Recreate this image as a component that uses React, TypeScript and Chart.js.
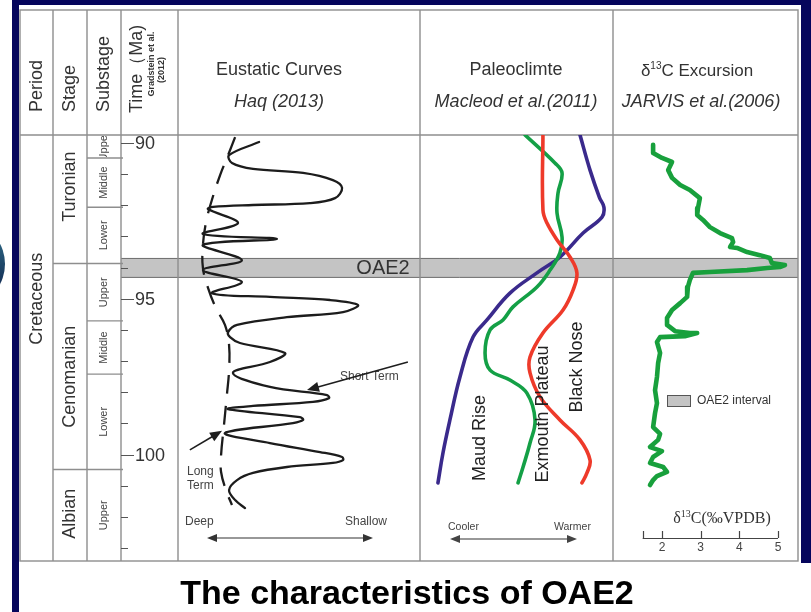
import React, { useEffect, useRef } from "react";
import { Chart, registerables } from "chart.js";

Chart.register(...registerables);

const SANS = "'Liberation Sans', Arial, Helvetica, sans-serif";
const SERIF = "'Liberation Serif', 'Times New Roman', serif";

// ---------- stratigraphy (ages in Ma) ----------
const TIME_TICKS = [90, 91, 92, 93, 94, 95, 96, 97, 98, 99, 100, 101, 102, 103];
const TIME_LABELS = [90, 95, 100];
const PERIOD_NAME = "Cretaceous";
const STAGE_NAMES = ["Turonian", "Cenomanian", "Albian"];
const STAGE_BOUNDS = [89.74, 93.87, 100.48, 103.42];
const SUBSTAGE_NAMES = ["Upper", "Middle", "Lower", "Upper", "Middle", "Lower", "Upper"];
const SUBSTAGE_BOUNDS = [89.74, 90.48, 92.06, 93.87, 95.71, 97.42, 100.48, 103.42];
const OAE2_INTERVAL = [93.69, 94.33];

// ---------- eustatic curves, Haq (2013) (relative level, 0 = deep, 100 = shallow) ----------
const SEA_SHORT_AGE = [89.97, 90.39, 90.64, 90.83, 90.96, 91.19, 91.44, 91.77, 91.93, 91.99, 92.05, 92.12, 92.57, 92.92, 93.08, 93.27, 93.76, 94.08, 94.46, 94.82, 94.94, 95.04, 95.2, 95.43, 95.59, 95.84, 96.07, 96.23, 96.42, 96.74, 97.03, 97.38, 97.83, 98.09, 98.19, 98.31, 98.44, 98.54, 98.8, 98.89, 98.99, 99.31, 99.63, 99.92, 100.08, 100.18, 100.27, 100.4, 100.59, 100.82, 101.14, 101.46, 101.72];
const SEA_SHORT_LEVEL = [33.5, 21.1, 22.3, 31.0, 51.7, 64.0, 67.8, 64.9, 54.5, 31.0, 14.5, 12.4, 24.8, 10.3, 40.9, 10.3, 26.4, 10.3, 26.4, 14.0, 38.0, 62.8, 74.4, 68.2, 45.0, 24.4, 20.7, 21.5, 25.6, 44.2, 38.0, 22.7, 38.0, 61.6, 62.4, 55.8, 31.0, 20.7, 50.4, 51.7, 47.5, 19.4, 38.0, 58.7, 67.8, 68.2, 64.0, 45.0, 31.0, 24.4, 21.1, 23.6, 27.7];
const SEA_LONG_AGE = [89.81, 90.39, 91.03, 91.83, 92.54, 93.27, 94.01, 94.65, 95.3, 95.84, 96.48, 97.29, 98.09, 99.05, 100.02, 100.56, 101.14, 101.62];
const SEA_LONG_LEVEL = [23.6, 20.7, 17.4, 14.0, 11.6, 10.3, 10.3, 12.4, 15.7, 19.4, 21.1, 21.1, 20.2, 19.0, 17.8, 17.8, 19.8, 22.3];

// ---------- paleoclimate, Macleod et al. (2011) (0 = cooler, 100 = warmer) ----------
const BLACK_NOSE_AGE = [89.7, 92.15, 92.57, 93.11, 93.66, 94.17, 94.72, 95.36, 96.1, 96.87, 97.38, 98.15, 98.89, 99.53, 100.18, 100.59, 100.91];
const BLACK_NOSE_TEMP = [63.7, 63.7, 65.8, 71.0, 77.7, 81.3, 79.3, 74.1, 63.7, 57.0, 57.0, 62.2, 72.5, 82.9, 88.1, 86.5, 83.9];
const EXMOUTH_AGE = [89.74, 90.64, 90.96, 91.61, 92.25, 93.02, 93.53, 94.08, 94.62, 95.26, 95.68, 96.0, 96.74, 97.29, 97.61, 98.03, 98.89, 99.63, 100.4, 100.91];
const EXMOUTH_TEMP = [54.4, 69.9, 73.6, 71.5, 71.0, 73.6, 72.5, 67.4, 60.6, 48.2, 43.0, 36.3, 33.7, 36.3, 46.6, 55.4, 59.6, 57.0, 53.4, 50.8];
const MAUD_RISE_AGE = [89.74, 90.87, 91.75, 92.06, 92.38, 92.89, 93.66, 94.17, 94.82, 95.68, 96.23, 97.51, 98.89, 99.95, 100.91];
const MAUD_RISE_TEMP = [82.9, 88.1, 93.0, 95.3, 94.3, 84.5, 72.5, 60.6, 46.6, 34.7, 27.5, 20.7, 15.5, 11.9, 9.3];

// ---------- carbon isotopes, Jarvis et al. (2006) (‰ VPDB) ----------
const D13C_AGE = [90.06, 90.32, 90.48, 90.61, 90.87, 91.12, 91.35, 91.51, 91.77, 92.09, 92.31, 92.47, 92.7, 92.89, 93.05, 93.18, 93.34, 93.37, 93.5, 93.6, 93.69, 93.85, 93.92, 93.98, 94.01, 94.08, 94.14, 94.17, 94.4, 94.62, 94.94, 95.14, 95.36, 95.62, 95.84, 96.04, 96.1, 96.1, 96.2, 96.23, 96.39, 96.74, 97.06, 97.51, 97.93, 98.35, 98.67, 99.12, 99.34, 99.53, 99.76, 99.89, 100.08, 100.27, 100.4, 100.56, 100.69, 100.82, 100.98];
const D13C_VALUE = [1.77, 1.77, 2.0, 2.26, 2.16, 2.26, 2.47, 2.72, 2.98, 2.93, 2.91, 3.06, 3.24, 3.5, 3.81, 3.84, 3.76, 3.94, 4.2, 4.53, 4.79, 4.84, 5.18, 5.05, 4.72, 4.2, 3.24, 2.8, 2.72, 2.67, 2.65, 2.47, 2.26, 2.13, 2.13, 2.34, 2.72, 2.91, 2.59, 1.95, 1.87, 1.95, 1.9, 1.87, 1.82, 1.87, 1.82, 1.77, 1.95, 1.9, 1.69, 2.0, 1.77, 1.69, 2.03, 2.13, 1.87, 1.77, 1.69];
const D13C_TICKS = [2, 3, 4, 5];
const D13C_AXIS_MIN = 1.5;

// ---------- page layout ----------
const W = 811;
const H = 612;
const FRAME = { left: 20, top: 10, right: 798, head: 135, bottom: 561 };
const COL = { period: 20, stage: 53, sub: 87, time: 121, sea: 178, clim: 420, c13: 613, end: 798 };
const STAGE_LABEL_AT = [91.4, 97.5, 101.9];
const PERIOD_LABEL_AT = 95.0;

// linear map so that pixel pxA shows vA and pxB shows vB inside the frame
function fitX(pxA: number, pxB: number, vA: number, vB: number) {
  const k = (vB - vA) / (pxB - pxA);
  return { min: vA - (pxA - FRAME.left) * k, max: vB + (FRAME.right - pxB) * k };
}
function fitY(pxA: number, pxB: number, vA: number, vB: number) {
  const k = (vB - vA) / (pxB - pxA);
  return { min: vA - (pxA - FRAME.head) * k, max: vB + (FRAME.bottom - pxB) * k };
}

const zip = (xs: number[], ys: number[]) => xs.map((x, i) => ({ x, y: ys[i] }));

function vText(ctx: CanvasRenderingContext2D, text: string, x: number, y: number, font: string, align: CanvasTextAlign, color = "#333") {
  ctx.save();
  ctx.translate(x, y);
  ctx.rotate(-Math.PI / 2);
  ctx.font = font;
  ctx.fillStyle = color;
  ctx.textAlign = align;
  ctx.textBaseline = "middle";
  ctx.fillText(text, 0, 0);
  ctx.restore();
}

function hText(ctx: CanvasRenderingContext2D, text: string, x: number, y: number, font: string, align: CanvasTextAlign = "left", color = "#333") {
  ctx.font = font;
  ctx.fillStyle = color;
  ctx.textAlign = align;
  ctx.textBaseline = "middle";
  ctx.fillText(text, x, y);
}

// "δ¹³C..." with a raised small "13"
function deltaText(ctx: CanvasRenderingContext2D, rest: string, cx: number, y: number, family: string, size: number, color = "#333") {
  const small = Math.round(size * 0.6);
  ctx.textBaseline = "alphabetic";
  ctx.font = `${size}px ${family}`;
  const w1 = ctx.measureText("δ").width;
  const w3 = ctx.measureText(rest).width;
  ctx.font = `${small}px ${family}`;
  const w2 = ctx.measureText("13").width;
  let x = cx - (w1 + w2 + w3) / 2;
  const base = y + size * 0.35;
  ctx.fillStyle = color;
  ctx.textAlign = "left";
  ctx.font = `${size}px ${family}`;
  ctx.fillText("δ", x, base);
  x += w1;
  ctx.font = `${small}px ${family}`;
  ctx.fillText("13", x, base - size * 0.38);
  x += w2;
  ctx.font = `${size}px ${family}`;
  ctx.fillText(rest, x, base);
}

function arrow(ctx: CanvasRenderingContext2D, x1: number, y1: number, x2: number, y2: number, len = 10, half = 4) {
  const a = Math.atan2(y2 - y1, x2 - x1);
  ctx.beginPath();
  ctx.moveTo(x1, y1);
  ctx.lineTo(x2 - Math.cos(a) * len * 0.8, y2 - Math.sin(a) * len * 0.8);
  ctx.stroke();
  ctx.beginPath();
  ctx.moveTo(x2, y2);
  ctx.lineTo(x2 - Math.cos(a) * len - Math.sin(a) * half, y2 - Math.sin(a) * len + Math.cos(a) * half);
  ctx.lineTo(x2 - Math.cos(a) * len + Math.sin(a) * half, y2 - Math.sin(a) * len - Math.cos(a) * half);
  ctx.closePath();
  ctx.fill();
}

const oaeFrame = {
  id: "oaeFrame",
  beforeDraw(chart: any) {
    const ctx: CanvasRenderingContext2D = chart.ctx;
    const y = chart.scales.y;
    ctx.save();
    ctx.fillStyle = "#ffffff";
    ctx.fillRect(0, 0, W, H);

    // slide edges
    ctx.fillStyle = "#05055c";
    ctx.fillRect(12, 0, 7, H);
    ctx.fillRect(12, 0, W - 12, 5);
    ctx.fillRect(801, 0, W - 801, 563);

    // edge of the round logo at the far left
    ctx.save();
    ctx.beginPath();
    ctx.rect(0, 0, 11, H);
    ctx.clip();
    const g = ctx.createLinearGradient(0, 232, 6, 300);
    g.addColorStop(0, "#2f6c86");
    g.addColorStop(1, "#0d1f4a");
    ctx.fillStyle = g;
    ctx.beginPath();
    ctx.ellipse(-24, 264, 29, 36, 0, 0, Math.PI * 2);
    ctx.fill();
    ctx.restore();

    // OAE2 interval band
    const b1 = y.getPixelForValue(OAE2_INTERVAL[0]);
    const b2 = y.getPixelForValue(OAE2_INTERVAL[1]);
    ctx.fillStyle = "#c4c4c4";
    ctx.fillRect(COL.time, b1, FRAME.right - COL.time, b2 - b1);
    ctx.strokeStyle = "#707070";
    ctx.lineWidth = 1;
    ctx.beginPath();
    ctx.moveTo(COL.time, b1 + 0.5);
    ctx.lineTo(FRAME.right, b1 + 0.5);
    ctx.moveTo(COL.time, b2 - 0.5);
    ctx.lineTo(FRAME.right, b2 - 0.5);
    ctx.stroke();

    // table lines
    ctx.strokeStyle = "#8e8e8e";
    ctx.lineWidth = 1.4;
    ctx.strokeRect(FRAME.left, FRAME.top, FRAME.right - FRAME.left, FRAME.bottom - FRAME.top);
    ctx.beginPath();
    ctx.moveTo(FRAME.left, FRAME.head);
    ctx.lineTo(FRAME.right, FRAME.head);
    [COL.stage, COL.sub, COL.time, COL.sea, COL.clim, COL.c13].forEach((x) => {
      ctx.moveTo(x, FRAME.top);
      ctx.lineTo(x, FRAME.bottom);
    });
    STAGE_BOUNDS.slice(1, -1).forEach((t) => {
      const py = y.getPixelForValue(t);
      ctx.moveTo(COL.stage, py);
      ctx.lineTo(COL.sub, py);
    });
    SUBSTAGE_BOUNDS.slice(1, -1).forEach((t) => {
      const py = y.getPixelForValue(t);
      ctx.moveTo(COL.sub, py);
      ctx.lineTo(COL.time + 2, py);
    });
    ctx.stroke();

    // time scale
    ctx.strokeStyle = "#555";
    ctx.lineWidth = 1.2;
    ctx.beginPath();
    TIME_TICKS.forEach((t) => {
      const py = Math.round(y.getPixelForValue(t)) + 0.5;
      const major = TIME_LABELS.includes(t);
      ctx.moveTo(COL.time, py);
      ctx.lineTo(COL.time + (major ? 13 : 7), py);
    });
    ctx.stroke();
    TIME_LABELS.forEach((t) => hText(ctx, String(t), COL.time + 14, y.getPixelForValue(t) + 1, `18px ${SANS}`, "left", "#333"));

    // column headings
    const headFont = `18px ${SANS}`;
    vText(ctx, "Period", 37, 112, headFont, "left");
    vText(ctx, "Stage", 70, 112, headFont, "left");
    vText(ctx, "Substage", 104, 112, headFont, "left");
    vText(ctx, "Time（Ma)", 137, 113, headFont, "left");
    vText(ctx, "Gradstein et al.", 152, 64, `bold 9px ${SANS}`, "center");
    vText(ctx, "(2012)", 162, 70, `bold 9px ${SANS}`, "center");

    hText(ctx, "Eustatic Curves", 279, 70, headFont, "center");
    hText(ctx, "Haq (2013)", 279, 102, `italic ${headFont}`, "center");
    hText(ctx, "Paleoclimte", 516, 70, headFont, "center");
    hText(ctx, "Macleod et al.(2011)", 516, 102, `italic ${headFont}`, "center");
    deltaText(ctx, "C Excursion", 697, 70, SANS, 17);
    hText(ctx, "JARVIS et al.(2006)", 701, 102, `italic ${headFont}`, "center");

    // period / stage / substage names
    vText(ctx, PERIOD_NAME, 37, y.getPixelForValue(PERIOD_LABEL_AT), `18px ${SANS}`, "center");
    STAGE_NAMES.forEach((s, i) => vText(ctx, s, 70, y.getPixelForValue(STAGE_LABEL_AT[i]), `18px ${SANS}`, "center"));
    SUBSTAGE_NAMES.forEach((s, i) => {
      const top = y.getPixelForValue(SUBSTAGE_BOUNDS[i]);
      const bot = y.getPixelForValue(SUBSTAGE_BOUNDS[i + 1]);
      ctx.save();
      ctx.beginPath();
      ctx.rect(COL.sub, top + 1, COL.time - COL.sub, bot - top - 2);
      ctx.clip();
      vText(ctx, s, 104, (top + bot) / 2, `11px ${SANS}`, "center", "#444");
      ctx.restore();
    });
    ctx.restore();
  },
  afterDatasetsDraw(chart: any) {
    const ctx: CanvasRenderingContext2D = chart.ctx;
    const { y, xSea, xC13 } = chart.scales;
    ctx.save();

    // band label
    hText(ctx, "OAE2", 383, y.getPixelForValue((OAE2_INTERVAL[0] + OAE2_INTERVAL[1]) / 2) + 1, `20px ${SANS}`, "center", "#333");

    // eustatic annotations
    ctx.strokeStyle = "#1e1e1e";
    ctx.fillStyle = "#1e1e1e";
    ctx.lineWidth = 1.6;
    hText(ctx, "Short Term", 340, 377, `12px ${SANS}`, "left", "#444");
    hText(ctx, "Long", 187, 472, `12px ${SANS}`, "left", "#444");
    hText(ctx, "Term", 187, 486, `12px ${SANS}`, "left", "#444");
    ctx.strokeStyle = "#1e1e1e";
    ctx.fillStyle = "#1e1e1e";
    arrow(ctx, xSea.getPixelForValue(95.0), y.getPixelForValue(97.03), xSea.getPixelForValue(53.3), y.getPixelForValue(97.93), 12, 5);
    arrow(ctx, xSea.getPixelForValue(4.9), y.getPixelForValue(99.85), xSea.getPixelForValue(18.2), y.getPixelForValue(99.24), 12, 5);

    hText(ctx, "Deep", 185, 522, `12px ${SANS}`, "left", "#444");
    hText(ctx, "Shallow", 345, 522, `12px ${SANS}`, "left", "#444");
    ctx.strokeStyle = "#333";
    ctx.fillStyle = "#333";
    ctx.lineWidth = 1.2;
    arrow(ctx, 290, 538, 207, 538, 10, 4);
    arrow(ctx, 290, 538, 373, 538, 10, 4);

    // paleoclimate annotations
    vText(ctx, "Maud Rise", 480, 438, `18px ${SANS}`, "center", "#222");
    vText(ctx, "Exmouth Plateau", 543, 414, `18px ${SANS}`, "center", "#222");
    vText(ctx, "Black Nose", 577, 367, `18px ${SANS}`, "center", "#222");
    hText(ctx, "Cooler", 448, 527, `10.5px ${SANS}`, "left", "#444");
    hText(ctx, "Warmer", 554, 527, `10.5px ${SANS}`, "left", "#444");
    arrow(ctx, 513, 539, 450, 539, 10, 4);
    arrow(ctx, 513, 539, 577, 539, 10, 4);

    // carbon isotope legend and axis
    ctx.fillStyle = "#c4c4c4";
    ctx.fillRect(667, 395, 23, 11);
    ctx.strokeStyle = "#555";
    ctx.lineWidth = 1;
    ctx.strokeRect(667.5, 395.5, 23, 11);
    hText(ctx, "OAE2 interval", 697, 401, `12px ${SANS}`, "left", "#333");

    const axY = 538;
    ctx.strokeStyle = "#444";
    ctx.lineWidth = 1.2;
    ctx.beginPath();
    ctx.moveTo(xC13.getPixelForValue(D13C_AXIS_MIN), axY + 0.5);
    ctx.lineTo(xC13.getPixelForValue(D13C_TICKS[D13C_TICKS.length - 1]), axY + 0.5);
    [D13C_AXIS_MIN, ...D13C_TICKS].forEach((v) => {
      const px = Math.round(xC13.getPixelForValue(v)) + 0.5;
      ctx.moveTo(px, axY);
      ctx.lineTo(px, axY - 7);
    });
    ctx.stroke();
    D13C_TICKS.forEach((v) => hText(ctx, String(v), xC13.getPixelForValue(v), 548, `12px ${SANS}`, "center", "#444"));
    deltaText(ctx, "C(‰VPDB)", 722, 517, SERIF, 16, "#333");

    // slide title
    ctx.font = `bold 34px ${SANS}`;
    ctx.fillStyle = "#000";
    ctx.textAlign = "center";
    ctx.textBaseline = "alphabetic";
    ctx.fillText("The characteristics of OAE2", 407, 604);
    ctx.restore();
  },
};

export default function App() {
  const ref = useRef<HTMLCanvasElement>(null);

  useEffect(() => {
    if (!ref.current) return;
    const yr = fitY(143, 548, 90, 103);
    const line = { showLine: true, pointRadius: 0, borderCapStyle: "round", borderJoinStyle: "round", fill: false };
    const chart = new Chart(ref.current, {
      type: "scatter",
      data: {
        datasets: [
          { ...line, label: "Short term", xAxisID: "xSea", data: zip(SEA_SHORT_LEVEL, SEA_SHORT_AGE), borderColor: "#1c1c1c", borderWidth: 2.3, tension: 0.35 },
          { ...line, label: "Long term", xAxisID: "xSea", data: zip(SEA_LONG_LEVEL, SEA_LONG_AGE), borderColor: "#1c1c1c", borderWidth: 2.3, tension: 0.4, borderDash: [19, 12], borderCapStyle: "butt" },
          { ...line, label: "Black Nose", xAxisID: "xClim", data: zip(BLACK_NOSE_TEMP, BLACK_NOSE_AGE), borderColor: "#ee3a2a", borderWidth: 3.6, tension: 0.4 },
          { ...line, label: "Exmouth Plateau", xAxisID: "xClim", data: zip(EXMOUTH_TEMP, EXMOUTH_AGE), borderColor: "#14a046", borderWidth: 3.6, tension: 0.4 },
          { ...line, label: "Maud Rise", xAxisID: "xClim", data: zip(MAUD_RISE_TEMP, MAUD_RISE_AGE), borderColor: "#3a2a8c", borderWidth: 3.6, tension: 0.4 },
          { ...line, label: "δ13C", xAxisID: "xC13", data: zip(D13C_VALUE, D13C_AGE), borderColor: "#18a03c", borderWidth: 4.6, tension: 0 },
        ] as any,
      },
      options: {
        responsive: false,
        animation: false,
        devicePixelRatio: 1,
        events: [],
        layout: { padding: { left: FRAME.left, top: FRAME.head, right: W - FRAME.right, bottom: H - FRAME.bottom } },
        plugins: { legend: { display: false }, tooltip: { enabled: false }, title: { display: false } },
        scales: {
          y: { type: "linear", reverse: true, display: false, min: yr.min, max: yr.max },
          xSea: { type: "linear", axis: "x", display: false, ...fitX(COL.sea, COL.clim, 0, 100) },
          xClim: { type: "linear", axis: "x", display: false, ...fitX(COL.clim, COL.c13, 0, 100) },
          xC13: { type: "linear", axis: "x", display: false, ...fitX(662, 778, 2, 5) },
        } as any,
      },
      plugins: [oaeFrame],
    });
    return () => chart.destroy();
  }, []);

  return (
    <div style={{ position: "fixed", left: 0, top: 0, width: W, height: H }}>
      <canvas ref={ref} width={W} height={H} style={{ display: "block", width: W, height: H }} />
    </div>
  );
}
